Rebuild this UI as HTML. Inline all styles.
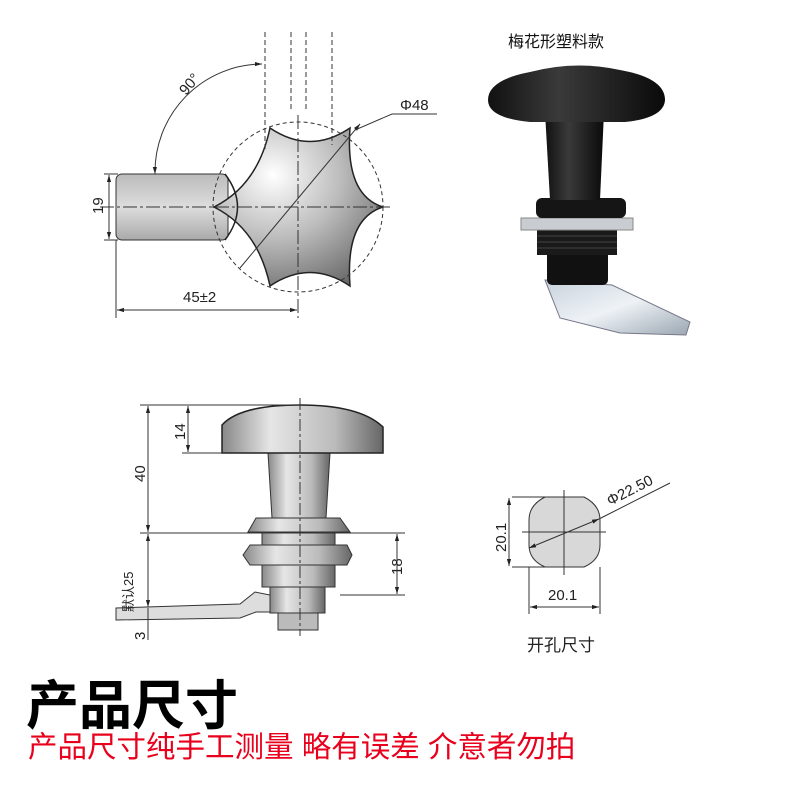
<!DOCTYPE html>
<html><head><meta charset="utf-8"><style>
html,body{margin:0;padding:0;background:#fff;}
svg{display:block;}
</style></head><body>
<svg width="800" height="800" viewBox="0 0 800 800" xmlns="http://www.w3.org/2000/svg" font-family="Liberation Sans, Noto Sans CJK SC, sans-serif">
<defs>
<radialGradient id="sg" cx="0.35" cy="0.3" r="0.8"><stop offset="0" stop-color="#fff"/><stop offset="0.5" stop-color="#bcbcbc"/><stop offset="1" stop-color="#6a6a6a"/></radialGradient>
<linearGradient id="hg" x1="0" y1="0" x2="0" y2="1"><stop offset="0" stop-color="#bbb"/><stop offset="0.5" stop-color="#ddd"/><stop offset="1" stop-color="#aaa"/></linearGradient>
<linearGradient id="mg" x1="0" y1="0" x2="1" y2="0"><stop offset="0" stop-color="#888"/><stop offset="0.3" stop-color="#e6e6e6"/><stop offset="0.7" stop-color="#bbb"/><stop offset="1" stop-color="#666"/></linearGradient>
<linearGradient id="bk" x1="0" y1="0" x2="1" y2="0"><stop offset="0" stop-color="#111"/><stop offset="0.4" stop-color="#3a3a3a"/><stop offset="1" stop-color="#0a0a0a"/></linearGradient>
<linearGradient id="al" x1="0" y1="0" x2="1" y2="1"><stop offset="0" stop-color="#c8d2dc"/><stop offset="0.5" stop-color="#eef2f6"/><stop offset="1" stop-color="#9aa6b2"/></linearGradient>
<marker id="a" viewBox="0 0 10 10" refX="10" refY="5" markerWidth="7" markerHeight="7" orient="auto-start-reverse"><path d="M0,2 L10,5 L0,8z" fill="#222"/></marker>
</defs>
<g stroke="#333" stroke-width="1" fill="none">
<rect x="116" y="174" width="112" height="66" rx="6" fill="url(#hg)"/>
<path d="M383,207 Q345,195 350,128 Q310,155 270,128 Q258,185 214,207 Q258,229 270,286 Q310,259 350,286 Q345,219 383,207Z" fill="url(#sg)" stroke="#222" stroke-width="1.5"/>
<path d="M225,174 Q250,207 225,240" stroke="#222" stroke-width="1.5"/>
<circle cx="298" cy="207" r="85" stroke-dasharray="4,3"/>
<line x1="100" y1="207" x2="392" y2="207" stroke-dasharray="14,3,3,3"/>
<line x1="298" y1="115" x2="298" y2="318" stroke-dasharray="14,3,3,3"/>
<g stroke-dasharray="5,3"><line x1="265" y1="32" x2="265" y2="150"/><line x1="291" y1="32" x2="291" y2="110"/><line x1="306" y1="32" x2="306" y2="110"/><line x1="332" y1="32" x2="332" y2="145"/></g>
<path d="M262,64 A108,108 0 0 0 155,174" marker-start="url(#a)" marker-end="url(#a)"/>
<line x1="240" y1="268" x2="360" y2="124" marker-end="url(#a)"/><polyline points="355,130 392,114 437,114"/>
<line x1="104" y1="174" x2="118" y2="174"/><line x1="104" y1="240" x2="118" y2="240"/>
<line x1="109" y1="175" x2="109" y2="239" marker-start="url(#a)" marker-end="url(#a)"/>
<line x1="116" y1="240" x2="116" y2="318"/>
<line x1="117" y1="310" x2="297" y2="310" marker-start="url(#a)" marker-end="url(#a)"/>
</g>
<g fill="#222" font-size="15">
<text transform="translate(186,96) rotate(-50)">90°</text>
<text x="400" y="110">Φ48</text>
<text transform="translate(103,214) rotate(-90)">19</text>
<text x="183" y="302">45±2</text>
</g>
<text x="508" y="47" font-size="16" fill="#111">梅花形塑料款</text>
<path d="M545,280 L612,285 L690,322 L686,335 L620,333 L560,318 Z" fill="url(#al)" stroke="#778"/>
<rect x="547" y="250" width="61" height="35" rx="5" fill="#111"/>
<rect x="537" y="230" width="80" height="25" fill="#1a1a1a"/>
<g stroke="#444"><line x1="537" y1="236" x2="617" y2="236"/><line x1="537" y1="242" x2="617" y2="242"/><line x1="537" y1="248" x2="617" y2="248"/></g>
<rect x="521" y="218" width="112" height="12" fill="#c9ccd0" stroke="#888"/>
<rect x="536" y="198" width="90" height="20" rx="6" fill="#151515"/>
<path d="M545,112 L604,112 L600,200 L550,200Z" fill="url(#bk)"/>
<path d="M488,100 Q488,80 530,72 Q575,60 620,70 Q665,78 665,100 Q664,118 625,122 L530,122 Q488,118 488,100Z" fill="url(#bk)"/>
<g stroke="#333" fill="none">
<path d="M300,612 L278,612 L278,630 L318,630 L318,612Z" fill="#bbb"/>
<path d="M116,608 L240,604 L255,592 L275,596 L275,612 L256,612 L240,618 L116,620Z" fill="#ddd"/>
<rect x="270" y="585" width="55" height="28" fill="url(#mg)"/>
<rect x="262" y="532" width="73" height="55" fill="url(#mg)"/>
<path d="M243,555 L250,545 L347,545 L352,555 L347,565 L250,565Z" fill="url(#mg)"/>
<path d="M248,532 L256,518 L340,518 L350,532Z" fill="url(#mg)"/>
<path d="M268,453 L330,453 L326,518 L272,518Z" fill="url(#mg)"/>
<path d="M222,425 Q240,405 300,405 Q360,405 383,427 L383,453 L222,453Z" fill="url(#mg)" stroke="#222" stroke-width="1.5"/>
<line x1="300" y1="398" x2="300" y2="636" stroke-dasharray="12,3,3,3"/>
<line x1="140" y1="405" x2="300" y2="405"/><line x1="182" y1="453" x2="222" y2="453"/>
<line x1="140" y1="533" x2="405" y2="533"/><line x1="340" y1="595" x2="405" y2="595"/>
<line x1="148" y1="406" x2="148" y2="532" marker-start="url(#a)" marker-end="url(#a)"/>
<line x1="148" y1="534" x2="148" y2="607" marker-start="url(#a)" marker-end="url(#a)"/>
<line x1="148" y1="608" x2="148" y2="640"/>
<line x1="188" y1="406" x2="188" y2="452" marker-start="url(#a)" marker-end="url(#a)"/>
<line x1="397" y1="534" x2="397" y2="594" marker-start="url(#a)" marker-end="url(#a)"/>
</g>
<g fill="#222" font-size="15">
<text transform="translate(185,440) rotate(-90)">14</text>
<text transform="translate(145,482) rotate(-90)">40</text>
<text transform="translate(133,612) rotate(-90)" font-size="13">默认25</text>
<text transform="translate(402,575) rotate(-90)">18</text>
<text transform="translate(145,640) rotate(-90)">3</text>
</g>
<g stroke="#333" fill="none">
<path d="M545,497 L584,497 Q600,505 600,520 L600,545 Q600,560 584,567 L545,567 Q529,560 529,545 L529,520 Q529,505 545,497Z" fill="#d8d8d8"/>
<line x1="564" y1="490" x2="564" y2="575"/><line x1="522" y1="532" x2="606" y2="532"/>
<line x1="512" y1="497" x2="545" y2="497"/><line x1="512" y1="567" x2="545" y2="567"/>
<line x1="509" y1="498" x2="509" y2="566" marker-start="url(#a)" marker-end="url(#a)"/>
<line x1="529" y1="567" x2="529" y2="614"/><line x1="600" y1="567" x2="600" y2="614"/>
<line x1="530" y1="607" x2="599" y2="607" marker-start="url(#a)" marker-end="url(#a)"/>
<line x1="529" y1="548" x2="599" y2="519" marker-start="url(#a)" marker-end="url(#a)"/>
<line x1="599" y1="519" x2="670" y2="483"/>
</g>
<g fill="#222" font-size="15">
<text transform="translate(506,552) rotate(-90)">20.1</text>
<text x="548" y="600">20.1</text>
<text transform="translate(610,506) rotate(-27)">Φ22.50</text>
<text x="527" y="651" font-size="17">开孔尺寸</text>
</g>
<text x="26" y="724" font-size="53" font-weight="bold" fill="#000">产品尺寸</text>
<text x="28" y="757" font-size="29.5" fill="#e8001c">产品尺寸纯手工测量 略有误差 介意者勿拍</text>
</svg>
</body></html>
